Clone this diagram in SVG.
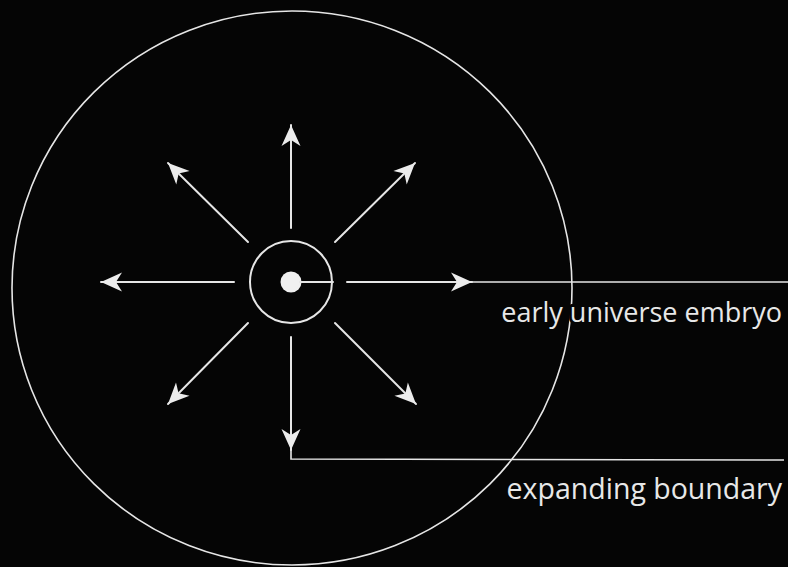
<svg xmlns="http://www.w3.org/2000/svg" width="788" height="567" viewBox="0 0 788 567">
<defs>
<style>
.ln{fill:none;stroke:#e6e6e6;stroke-width:2;stroke-linecap:round}
.thin{fill:none;stroke:#e6e6e6;stroke-width:1.6}
.lbl{font-family:"Open Sans","Noto Sans","Liberation Sans",sans-serif;fill:#e8e8e8;stroke:#050505;stroke-width:6;paint-order:stroke;stroke-linejoin:round}
</style>
<marker id="ah" markerUnits="userSpaceOnUse" markerWidth="24" markerHeight="24" viewBox="-22 -11 24 22" refX="0" refY="0" orient="auto">
<path d="M0,0 L-21,-9.5 L-15,0 L-21,9.5 Z" fill="#ececec"/>
</marker>
</defs>
<rect width="788" height="567" fill="#050505"/>
<g id="boundary">
<ellipse cx="292" cy="288" rx="280" ry="277" class="thin"/>
</g>
<g id="embryo">
<circle cx="291" cy="282" r="41" class="ln"/>
<circle cx="291" cy="282" r="10.5" fill="#f0f0f0"/>
</g>
<g id="connectors">
<line x1="300" y1="282" x2="333" y2="282" class="ln"/>
<line x1="347" y1="282" x2="472" y2="282" class="ln" marker-end="url(#ah)"/>
<line x1="472" y1="282" x2="788" y2="282" class="thin"/>
<line x1="234" y1="282" x2="101" y2="282" class="ln" marker-end="url(#ah)"/>
<line x1="291" y1="228" x2="291" y2="125" class="ln" marker-end="url(#ah)"/>
<line x1="291" y1="337" x2="291" y2="450" class="ln" marker-end="url(#ah)"/>
<line x1="248" y1="242" x2="168" y2="163" class="ln" marker-end="url(#ah)"/>
<line x1="335" y1="242" x2="415" y2="163" class="ln" marker-end="url(#ah)"/>
<line x1="248" y1="323" x2="168" y2="404" class="ln" marker-end="url(#ah)"/>
<line x1="335" y1="323" x2="416" y2="404" class="ln" marker-end="url(#ah)"/>
<polyline points="291,450 291,459 784,460" class="thin"/>
</g>
<g id="labels">
<text x="782" y="322" text-anchor="end" class="lbl" font-size="27">early universe embryo</text>
<text x="782" y="499" text-anchor="end" class="lbl" font-size="28.5">expanding boundary</text>
</g>
</svg>
